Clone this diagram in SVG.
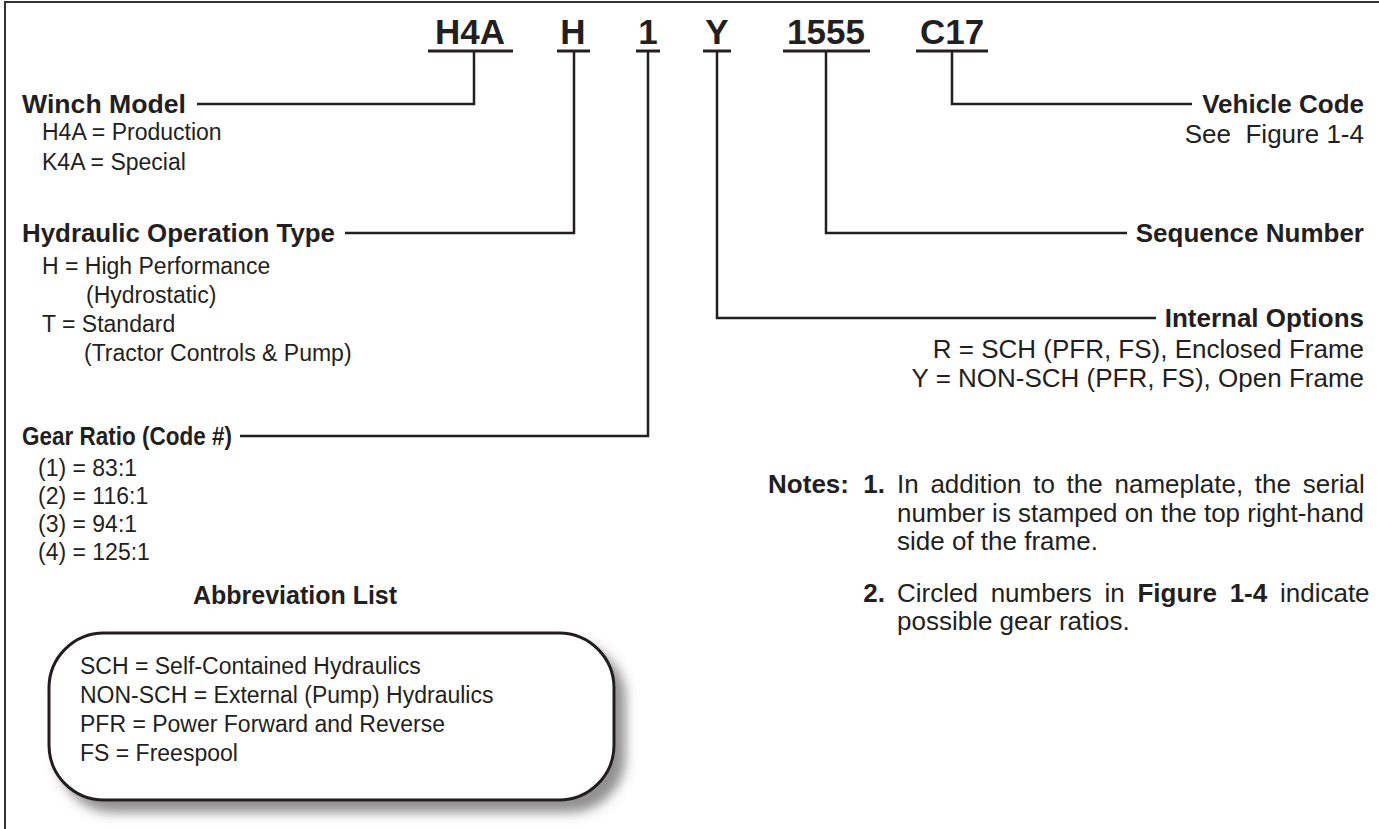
<svg xmlns="http://www.w3.org/2000/svg" width="1379" height="829" viewBox="0 0 1379 829">
<defs>
<style>
text{font-family:"Liberation Sans",Arial,Helvetica,sans-serif;fill:#231f20}
.code{font-size:35px;font-weight:bold;text-anchor:middle}
.lab{font-size:25px;font-weight:bold}
.rlab{font-size:26px;font-weight:bold;text-anchor:end}
.txt{font-size:23px}
.rtxt{font-size:26px}
.r{text-anchor:end}
.ln{fill:none;stroke:#231f20;stroke-width:2.5}
.ul{stroke:#231f20;stroke-width:3}
</style>
<filter id="sh" x="-10%" y="-10%" width="130%" height="140%">
<feDropShadow dx="10" dy="11" stdDeviation="6" flood-color="#555" flood-opacity="0.65"/>
</filter>
</defs>
<rect width="1379" height="829" fill="#fff"/>
<path d="M5 829 V2 H1379" fill="none" stroke="#333" stroke-width="2"/>

<g id="codes">
<text class="code" x="470" y="44">H4A</text>
<text class="code" x="573" y="44">H</text>
<text class="code" x="648" y="44">1</text>
<text class="code" x="717" y="44">Y</text>
<text class="code" x="826" y="44">1555</text>
<text class="code" x="952" y="44">C17</text>
<line class="ul" x1="428" y1="51" x2="513" y2="51"/>
<line class="ul" x1="557" y1="51" x2="590" y2="51"/>
<line class="ul" x1="636" y1="51" x2="660" y2="51"/>
<line class="ul" x1="703" y1="51" x2="731" y2="51"/>
<line class="ul" x1="783" y1="51" x2="870" y2="51"/>
<line class="ul" x1="916" y1="51" x2="988" y2="51"/>
</g>

<g id="connectors">
<path class="ln" d="M474 51 V104 H197"/>
<path class="ln" d="M574 51 V233 H345"/>
<path class="ln" d="M648 51 V436 H240"/>
<path class="ln" d="M717 51 V318 H1156"/>
<path class="ln" d="M826 51 V233 H1127"/>
<path class="ln" d="M952 51 V104 H1192"/>
</g>

<g id="winch-model">
<text class="lab" x="22" y="113" textLength="164" lengthAdjust="spacingAndGlyphs">Winch Model</text>
<text class="txt" x="42" y="140">H4A = Production</text>
<text class="txt" x="42" y="170">K4A = Special</text>
</g>

<g id="hydraulic-type">
<text class="lab" x="22" y="242" textLength="313" lengthAdjust="spacingAndGlyphs">Hydraulic Operation Type</text>
<text class="txt" x="42" y="274">H = High Performance</text>
<text class="txt" x="86" y="303">(Hydrostatic)</text>
<text class="txt" x="42" y="332">T = Standard</text>
<text class="txt" x="84" y="361">(Tractor Controls &amp; Pump)</text>
</g>

<g id="gear-ratio">
<text class="lab" x="22" y="445" textLength="210" lengthAdjust="spacingAndGlyphs">Gear Ratio (Code #)</text>
<text class="txt" x="38" y="476">(1) = 83:1</text>
<text class="txt" x="38" y="504">(2) = 116:1</text>
<text class="txt" x="38" y="532">(3) = 94:1</text>
<text class="txt" x="38" y="560">(4) = 125:1</text>
</g>

<g id="vehicle-code">
<text class="rlab" x="1364" y="113">Vehicle Code</text>
<text class="rtxt r" x="1364" y="143" xml:space="preserve">See  Figure 1-4</text>
</g>

<g id="sequence-number">
<text class="rlab" x="1364" y="242">Sequence Number</text>
</g>

<g id="internal-options">
<text class="rlab" x="1364" y="327">Internal Options</text>
<text class="rtxt r" x="1364" y="358">R = SCH (PFR, FS), Enclosed Frame</text>
<text class="rtxt r" x="1364" y="387">Y = NON-SCH (PFR, FS), Open Frame</text>
</g>

<g id="abbreviation-list">
<text class="lab" x="295" y="604" text-anchor="middle" font-size="24">Abbreviation List</text>
<rect x="49" y="633" width="565" height="167" rx="55" ry="55" fill="#fff" stroke="#231f20" stroke-width="3" filter="url(#sh)"/>
<text class="txt" x="80" y="674">SCH = Self-Contained Hydraulics</text>
<text class="txt" x="80" y="703">NON-SCH = External (Pump) Hydraulics</text>
<text class="txt" x="80" y="732">PFR = Power Forward and Reverse</text>
<text class="txt" x="80" y="761">FS = Freespool</text>
</g>

<g id="notes">
<text class="rlab" x="849" y="493">Notes:</text>
<text class="rlab" x="885" y="493">1.</text>
<text class="rtxt" x="897" y="493" word-spacing="4.5">In addition to the nameplate, the serial</text>
<text class="rtxt" x="897" y="522" textLength="467" lengthAdjust="spacingAndGlyphs">number is stamped on the top right-hand</text>
<text class="rtxt" x="897" y="550">side of the frame.</text>
<text class="rlab" x="885" y="602">2.</text>
<text class="rtxt" x="897" y="602" word-spacing="5.5">Circled numbers in <tspan font-weight="bold">Figure 1-4</tspan> indicate</text>
<text class="rtxt" x="897" y="630">possible gear ratios.</text>
</g>
</svg>
